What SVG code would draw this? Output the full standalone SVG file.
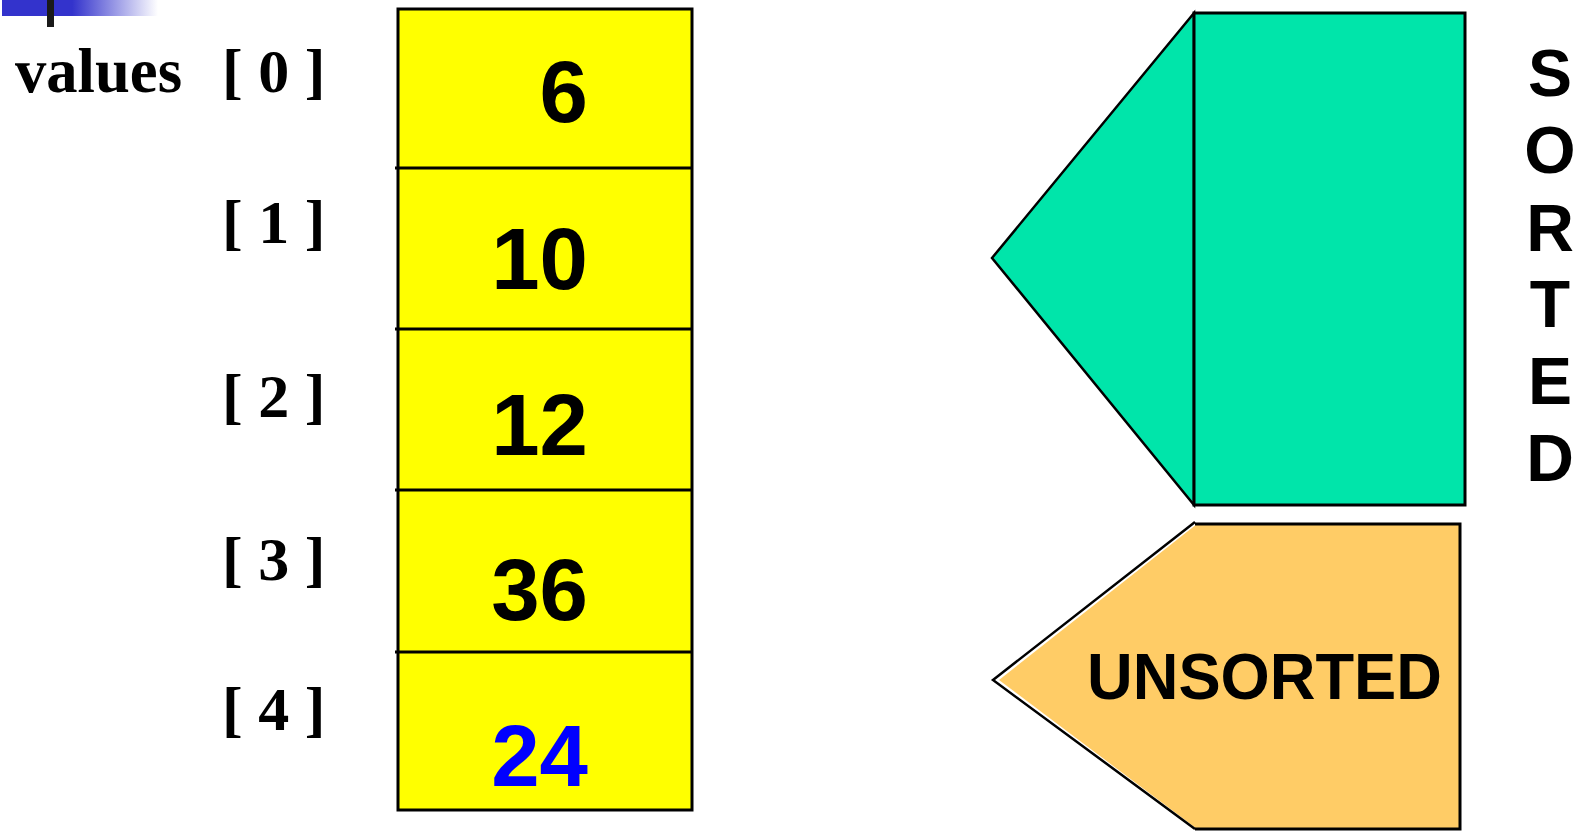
<svg xmlns="http://www.w3.org/2000/svg" width="1577" height="832" viewBox="0 0 1577 832">
<defs>
<linearGradient id="bar" x1="0" y1="0" x2="1" y2="0">
<stop offset="0" stop-color="#3333cc"/>
<stop offset="0.45" stop-color="#3333cc"/>
<stop offset="1" stop-color="#3333cc" stop-opacity="0"/>
</linearGradient>
</defs>
<style>
.idx{font-family:"Liberation Serif","Times New Roman",serif;font-weight:bold;font-size:62px;fill:#000}
.num{font-family:"Liberation Sans",Arial,sans-serif;font-weight:bold;font-size:87px;fill:#000;text-anchor:end}
.lbl{font-family:"Liberation Sans",Arial,sans-serif;font-weight:bold;font-size:66px;fill:#000}
.div{stroke:#000;stroke-width:3}
</style>
<rect width="1577" height="832" fill="#fff"/>
<g id="decor">
<rect x="2" y="0" width="156" height="16" fill="url(#bar)"/>
<rect x="47" y="0" width="7" height="27" fill="#1a1a1a"/>
</g>
<g id="labels">
<text class="idx" x="15" y="92" style="font-size:64px" textLength="167" lengthAdjust="spacingAndGlyphs">values</text>
<text class="idx" x="222" y="92">[ 0 ]</text>
<text class="idx" x="222" y="243">[ 1 ]</text>
<text class="idx" x="222" y="417">[ 2 ]</text>
<text class="idx" x="222" y="580">[ 3 ]</text>
<text class="idx" x="222" y="730">[ 4 ]</text>
</g>
<g id="array">
<rect x="398" y="9" width="294" height="801" fill="#ffff00" stroke="#000" stroke-width="3"/>
<line class="div" x1="395" y1="168" x2="693" y2="168"/>
<line class="div" x1="395" y1="329" x2="693" y2="329"/>
<line class="div" x1="395" y1="490" x2="693" y2="490"/>
<line class="div" x1="395" y1="652" x2="693" y2="652"/>
<text class="num" x="588" y="122">6</text>
<text class="num" x="588" y="289">10</text>
<text class="num" x="588" y="455">12</text>
<text class="num" x="588" y="620">36</text>
<text class="num" x="588" y="786" style="fill:#0000ff">24</text>
</g>
<g id="sorted">
<polygon points="1194,13 992,258 1194,505" fill="#00e5aa" stroke="#000" stroke-width="2.5" stroke-linejoin="miter"/>
<rect x="1194" y="13" width="271" height="492" fill="#00e5aa" stroke="#000" stroke-width="3"/>
<text class="lbl" x="1550" y="96" text-anchor="middle">S</text>
<text class="lbl" x="1550" y="173" text-anchor="middle">O</text>
<text class="lbl" x="1550" y="251" text-anchor="middle">R</text>
<text class="lbl" x="1550" y="327" text-anchor="middle">T</text>
<text class="lbl" x="1550" y="404" text-anchor="middle">E</text>
<text class="lbl" x="1550" y="481" text-anchor="middle">D</text>
</g>
<g id="unsorted">
<polygon points="1197,524 1460,524 1460,829 1197,829 999,680" fill="#ffcc66"/>
<polyline points="1195,522 993,680 1195,829" fill="none" stroke="#000" stroke-width="2.5"/>
<polyline points="1195,524 1460,524 1460,829 1195,829" fill="none" stroke="#000" stroke-width="3"/>
<text class="lbl" x="1087" y="699" textLength="355" lengthAdjust="spacingAndGlyphs" style="font-size:64px">UNSORTED</text>
</g>
</svg>
